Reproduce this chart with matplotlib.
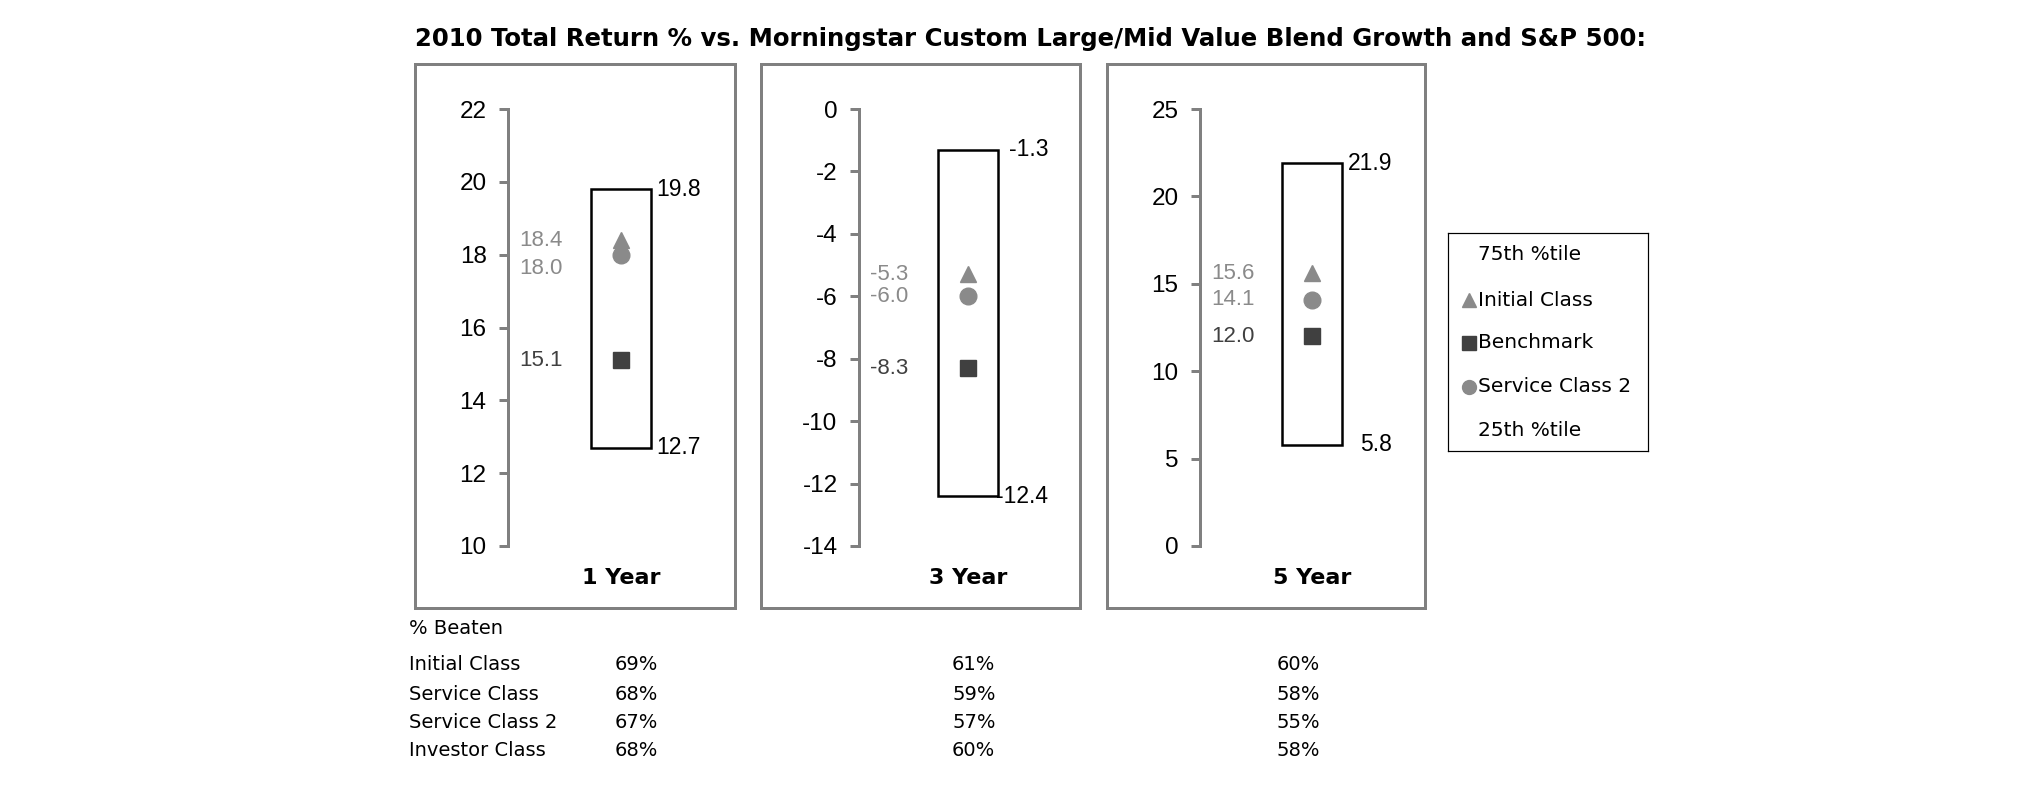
import numpy as np
import matplotlib
matplotlib.use('Agg')
import matplotlib.pyplot as plt
from matplotlib.patches import Rectangle

# data
periods = ['1 Year', '3 Year', '5 Year']
pct75 = [19.8, -1.3, 21.9]
pct25 = [12.7, -12.4, 5.8]
initial_class = [18.4, -5.3, 15.6]
service_class2 = [18.0, -6.0, 14.1]
benchmark = [15.1, -8.3, 12.0]
y_ticks = [[10, 12, 14, 16, 18, 20, 22],
           [-14, -12, -10, -8, -6, -4, -2, 0],
           [0, 5, 10, 15, 20, 25]]

beaten_classes = ['Initial Class', 'Service Class', 'Service Class 2', 'Investor Class']
beaten_1y = [69, 68, 67, 68]
beaten_3y = [61, 59, 57, 60]
beaten_5y = [60, 58, 55, 58]

title = '2010 Total Return % vs. Morningstar Custom Large/Mid Value Blend Growth and S&P 500:'

# layout (pixels)
W, H = 2025, 806
DPI = 100
frames = [(415, 64, 735, 608), (761, 64, 1080, 608), (1107, 64, 1425, 608)]
spine_px = [508, 859, 1200]
center_px = [621, 968, 1312]
box_px = 60.0
ax_top, ax_bot = 109, 546

light = '#8a8a8a'
dark = '#404040'
frame_col = '#808080'
num_font = 'Liberation Sans'

def px(v):
    return v * 72.0 / DPI

fig = plt.figure(figsize=(W / DPI, H / DPI), dpi=DPI)
fig.patch.set_facecolor('white')

fig.text(415 / W, 1 - 39 / H, title, ha='left', va='center',
         fontsize=17.6, fontweight='bold', family='DejaVu Sans')

for fx0, fy0, fx1, fy1 in frames:
    fig.add_artist(Rectangle((fx0 / W, 1 - fy1 / H), (fx1 - fx0) / W, (fy1 - fy0) / H,
                             transform=fig.transFigure, fill=False,
                             edgecolor=frame_col, linewidth=px(3)))

for i in range(3):
    left_u = (center_px[i] - spine_px[i]) / box_px
    right_u = 1.7
    ax = fig.add_axes([spine_px[i] / W, 1 - ax_bot / H,
                       (left_u + right_u) * box_px / W, (ax_bot - ax_top) / H])
    ax.set_xlim(-left_u, right_u)
    ticks = y_ticks[i]
    ax.set_ylim(ticks[0], ticks[-1])
    ax.set_yticks(ticks)
    ax.set_yticklabels([str(t) for t in ticks])
    ax.set_xticks([])
    for s in ['top', 'right', 'bottom']:
        ax.spines[s].set_visible(False)
    ax.spines['left'].set_color(frame_col)
    ax.spines['left'].set_linewidth(px(3))
    ax.tick_params(axis='y', direction='out', length=px(9), width=px(3),
                   color=frame_col, pad=9, labelsize=17.5, labelcolor='black')
    for lab in ax.get_yticklabels():
        lab.set_family(num_font)
    ax.patch.set_alpha(0)

    # quartile box
    ax.bar(0, pct75[i] - pct25[i], bottom=pct25[i], width=1.0,
           facecolor='white', edgecolor='black', linewidth=px(2.5))

    # markers
    ax.plot(0, initial_class[i], marker='^', markersize=12, color=light,
            linestyle='none', clip_on=False)
    ax.plot(0, service_class2[i], marker='o', markersize=12, color=light,
            linestyle='none', clip_on=False)
    ax.plot(0, benchmark[i], marker='s', markersize=11, color=dark,
            linestyle='none', clip_on=False)

    # right side percentile labels
    xr = 0.5 + 50 / box_px
    for v in [pct75[i], pct25[i]]:
        ax.text(xr, v, '%.1f' % v, ha='right', va='center', fontsize=16.5,
                family=num_font, color='black')

    # left side value labels, nudged apart when they would overlap
    unit_px = (ax_bot - ax_top) / (ticks[-1] - ticks[0])
    vals = [(initial_class[i], light), (service_class2[i], light), (benchmark[i], dark)]
    vals.sort(key=lambda t: -t[0])
    prev = None
    xl = -left_u + 11 / box_px
    for v, c in vals:
        ypx = (ticks[-1] - v) * unit_px
        if prev is not None and ypx - prev < 20:
            ypx = prev + 28
        prev = ypx
        off = -(ypx - (ticks[-1] - v) * unit_px)
        ax.annotate('%.1f' % v, xy=(xl, v), xytext=(0, px(off)),
                    textcoords='offset points', ha='left', va='center',
                    fontsize=16, family=num_font, color=c)

    ax.text(0, -32 / (ax_bot - ax_top), periods[i], transform=ax.get_xaxis_transform(),
            ha='center', va='center', fontsize=16, fontweight='bold',
            family='DejaVu Sans')

# legend panel
lx0, ly0, lx1, ly1 = 1448, 233, 1648, 451
lax = fig.add_axes([lx0 / W, 1 - ly1 / H, (lx1 - lx0) / W, (ly1 - ly0) / H])
lax.set_xlim(lx0, lx1)
lax.set_ylim(ly1, ly0)
lax.set_xticks([])
lax.set_yticks([])
for s in lax.spines.values():
    s.set_linewidth(px(1.2))
    s.set_color('black')
leg_rows = [255, 300, 343, 387, 430]
leg_labels = ['75th %tile', 'Initial Class', 'Benchmark', 'Service Class 2', '25th %tile']
leg_markers = [None, '^', 's', 'o', None]
leg_colors = [None, light, dark, light, None]
for y, lab, m, c in zip(leg_rows, leg_labels, leg_markers, leg_colors):
    if m is not None:
        lax.plot(1469, y, marker=m, markersize=10, color=c, linestyle='none')
    lax.text(1478, y, lab, ha='left', va='center', fontsize=14.5, family='DejaVu Sans')

# % beaten table
tfs = 14
fig.text(409 / W, 1 - 629 / H, '% Beaten', ha='left', va='center', fontsize=tfs,
         family='DejaVu Sans')
row_y = [664, 694, 723, 751]
col_x = [615, 952, 1277]
cols = [beaten_1y, beaten_3y, beaten_5y]
for r, name in enumerate(beaten_classes):
    fig.text(409 / W, 1 - row_y[r] / H, name, ha='left', va='center', fontsize=tfs,
             family='DejaVu Sans')
    for cx, col in zip(col_x, cols):
        fig.text(cx / W, 1 - row_y[r] / H, '%d%%' % col[r], ha='left', va='center',
                 fontsize=tfs, family='DejaVu Sans')

plt.savefig('out.png', dpi=DPI, facecolor='white')
